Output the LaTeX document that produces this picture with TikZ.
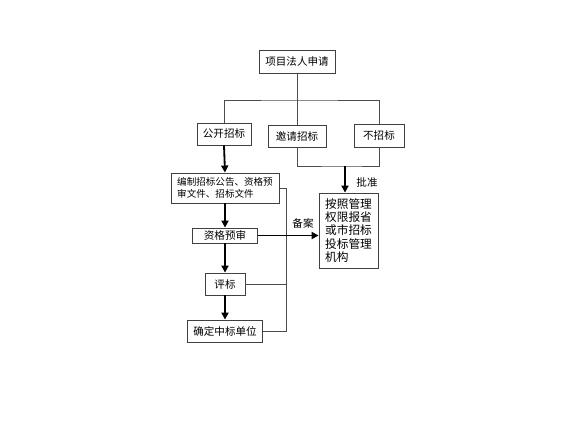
\documentclass[tikz,border=0pt]{standalone}
\usepackage{fontspec}
\setmainfont{Noto Sans CJK SC}
\usetikzlibrary{arrows.meta}

\begin{document}
\begin{tikzpicture}[x=0.25mm, y=-0.25mm,
		box/.style={draw=black!75, line width=0.6pt, inner sep=0pt, font=\fontsize{7.5}{9}\selectfont},
		line/.style={draw=black!70, line width=0.6pt},
		arr/.style={draw=black, line width=1.3pt, -{Triangle[length=5pt, width=5pt]}}]
		\useasboundingbox (0, 0) rectangle (576, 432);
		
		\node[box, minimum width=19mm, minimum height=5.75mm] (top) at (297, 61.5) {项目法人申请};
		\node[box, minimum width=13.5mm, minimum height=5.5mm] (gk) at (224, 134) {公开招标};
		\node[box, minimum width=14.5mm, minimum height=5.5mm] (yq) at (297, 136) {邀请招标};
		\node[box, minimum width=12.5mm, minimum height=5.75mm] (bz) at (379, 135.5) {不招标};
		
		\node[box, minimum width=27mm, minimum height=7.5mm, align=left, font=\fontsize{6.8}{8.6}\selectfont] (bianzhi) at (225, 188) {编制招标公告、资格预\\审文件、招标文件};
		\node[box, minimum width=16.25mm, minimum height=3.75mm] (zg) at (225, 235.5) {资格预审};
		\node[box, minimum width=10mm, minimum height=5.5mm] (pb) at (225, 284) {评标};
		\node[box, minimum width=18.75mm, minimum height=5.5mm] (qd) at (225, 331) {确定中标单位};
		
		\node[box, minimum width=14.75mm, minimum height=18.75mm, align=left, font=\fontsize{8.3}{9.3}\selectfont] (gl) at (348.5, 230.5) {按照管理\\权限报省\\或市招标\\投标管理\\机构};
		
		\coordinate (b1) at (297, 100);
		\coordinate (b2) at (345, 166);
		\coordinate (r1) at (286, 188);
		\coordinate (r2) at (286, 331);
		
		\draw[line] (top.south) -- (yq.north);
		\draw[line] (gk.north) |- (b1) -| (bz.north);
		\draw[line] (yq.south) |- (b2) -| (bz.south);
		\draw[arr] (b2) -- (b2 |- gl.north);
		\draw[arr] (gk.south) -- (bianzhi.north);
		
		\draw[arr] (bianzhi.south) -- (zg.north);
		\draw[arr] (zg.south) -- (pb.north);
		\draw[arr] (pb.south) -- (qd.north);
		
		\draw[line] (bianzhi.east) -- (r1) -- (r2) -- (qd.east);
		\draw[line] (pb.east) -- (pb.east -| r1);
		\draw[arr] (zg.east) -- (zg.east -| gl.west);
		
		\node[font=\fontsize{7.5}{9}\selectfont] (beian) at (303, 223) {备案};
		\node[font=\fontsize{7.5}{9}\selectfont] (pizhun) at (367, 182) {批准};
	\end{tikzpicture}
\end{document}
